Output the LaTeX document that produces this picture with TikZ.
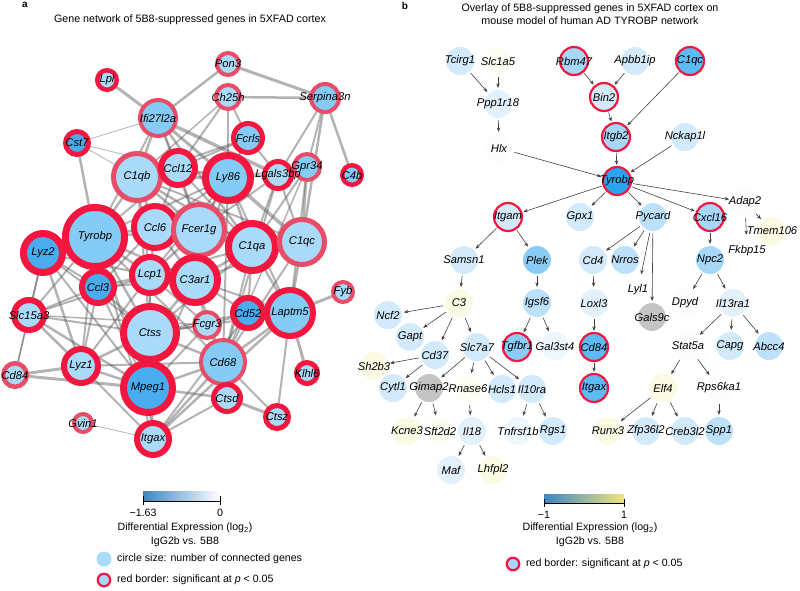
\documentclass[tikz,border=0pt]{standalone}
\usepackage{fontspec}
\setmainfont{Liberation Sans}
\usetikzlibrary{arrows.meta,backgrounds}

\definecolor{bL}{HTML}{AADAFA}
\definecolor{bM}{HTML}{84CBF6}
\definecolor{bD}{HTML}{48ACEF}
\definecolor{rR}{HTML}{F5163F}
\definecolor{rS}{HTML}{E84C66}
\definecolor{w0}{HTML}{FAFCFE}
\definecolor{w1}{HTML}{EFF7FE}
\definecolor{y0}{HTML}{FDFDF3}
\definecolor{y1}{HTML}{FBFBE4}
\definecolor{p1}{HTML}{E3F1FD}
\definecolor{p2}{HTML}{D2EAFB}
\definecolor{p3}{HTML}{BDE1FA}
\definecolor{p4}{HTML}{A6D7F8}
\definecolor{p5}{HTML}{8ACCF5}
\definecolor{p6}{HTML}{5CBAF4}
\definecolor{p7}{HTML}{2AA4EF}
\definecolor{gy}{HTML}{C4C4C4}
\definecolor{legA}{HTML}{3B85C6}
\definecolor{legY}{HTML}{F3E57A}

\def\genesA{Pon3/228/64/13/bL/rS/4, Lpl/107/80/12/bL/rR/4.5, Ch25h/228/97/14/bL/rS/4,
  Serpina3n/325/98/16/bM/rS/4, Ifi27l2a/158/118/20/bM/rS/4, Cst7/77/143/14/bD/rR/5,
  Fcrls/248/138/17/bM/rR/5, C1qb/137/177/26/bL/rS/5, Ccl12/178/168/20/bL/rR/6,
  Ly86/228/178/26/bM/rR/7, Lgals3bp/278/175/16/bL/rR/5, Gpr34/307/167/15/bM/rS/4,
  C4b/352/175/12/bM/rR/4.5, Tyrobp/95/237/33/bM/rR/7, Ccl6/155/227/24/bL/rR/6,
  Fcer1g/199/230/28/bL/rS/5, C1qa/252/247/27/bL/rR/7, C1qc/302/242/25/bL/rS/5,
  Lyz2/43/253/23/bD/rR/7, Lcp1/150/275/21/bL/rR/6, C3ar1/195/280/26/bL/rR/7,
  Ccl3/98/287/19/bD/rR/6, Fyb/343/292/12/bL/rS/4, Slc15a3/29/315/18/bL/rR/6,
  Ctss/150/333/30/bL/rR/7, Fcgr3/207/325/15/bL/rS/4, Cd52/248/313/18/bD/rR/6,
  Laptm5/290/313/26/bM/rR/6, Lyz1/81/366/20/bL/rR/6, Cd84/15/375/14/bL/rS/4.5,
  Cd68/223/362/24/bM/rS/4, Klhl6/307/373/13/bL/rR/5, Mpeg1/148/388/28/bD/rR/7,
  Ctsd/227/398/16/bL/rR/5, Ctsz/277/417/14/bL/rR/5, Gvin1/83/423/11/bL/rS/4,
  Itgax/153/439/19/bL/rR/6}

\def\edgesA{Lpl/Ifi27l2a/3, Pon3/Ifi27l2a/2.5, Pon3/Serpina3n/3, Ch25h/Serpina3n/2.5,
  Ch25h/Ly86/2, Ch25h/Fcrls/2, Ch25h/Ccl12/2, Ch25h/C1qb/1.5, Serpina3n/Lgals3bp/2,
  Serpina3n/C4b/2.5, Serpina3n/C1qc/2.5, Serpina3n/Gpr34/2, Ifi27l2a/C1qb/2.5,
  Ifi27l2a/Ccl12/2, Ifi27l2a/Lgals3bp/3.5, Ifi27l2a/Tyrobp/2, Ifi27l2a/Ly86/3,
  Ifi27l2a/Fcer1g/2, Ifi27l2a/C1qa/2.5, Cst7/Tyrobp/2.5, Cst7/C1qb/0.8, Cst7/Ccl12/0.8,
  Cst7/Ifi27l2a/0.8, Fcrls/Ccl12/2, Fcrls/C1qb/2, Fcrls/Lgals3bp/2, Fcrls/Ly86/2,
  Fcrls/Fcer1g/1.5, Gpr34/C1qc/2.5, Gpr34/C1qa/2, Gpr34/Laptm5/2, Gpr34/Ly86/2,
  Gpr34/Cd68/1.5, Lgals3bp/C1qa/2, Lgals3bp/C1qc/2, Lgals3bp/Ly86/2, Lgals3bp/Cd68/2,
  Lgals3bp/Fcer1g/2, Ly86/C1qa/2.5, Ly86/C1qc/3.5, Ly86/Fcer1g/2.5, Ly86/Ccl6/2,
  Ly86/Tyrobp/2, Ly86/C3ar1/2, Ly86/Lcp1/2, Ly86/Cd68/2, Ly86/Laptm5/2,
  C1qb/Tyrobp/2.5, C1qb/Ccl6/2.5, C1qb/Fcer1g/2.5, C1qb/C1qa/2.5, C1qb/C1qc/2,
  C1qb/Ccl12/2.5, C1qb/Ly86/3, C1qb/Lcp1/2, C1qb/Ctss/2, Ccl12/Ccl6/2, Ccl12/Fcer1g/2,
  Ccl12/C1qa/2, Ccl12/Ly86/3, Ccl12/Tyrobp/2, Tyrobp/Ccl6/2.5, Tyrobp/Lyz2/3,
  Tyrobp/Ccl3/2.5, Tyrobp/Lcp1/2.5, Tyrobp/Ctss/2.5, Tyrobp/Mpeg1/2.5,
  Tyrobp/Slc15a3/2, Tyrobp/Lyz1/2, Tyrobp/Fcer1g/2.5, Tyrobp/C3ar1/2.5, Tyrobp/Cd68/2,
  Tyrobp/Itgax/2, Lyz2/Slc15a3/2, Lyz2/Ccl3/2, Lyz2/Lyz1/2.5, Lyz2/Ctss/2,
  Lyz2/Mpeg1/2, Lyz2/Cd84/1.5, Lyz2/Lcp1/2, Slc15a3/Cd84/1.5, Slc15a3/Lyz1/2.5,
  Slc15a3/Ctss/2, Slc15a3/Mpeg1/2.5, Slc15a3/Ccl3/2, Slc15a3/Lcp1/2, Slc15a3/Fcgr3/1.5,
  Cd84/Lyz1/3, Cd84/Mpeg1/3, Lyz1/Mpeg1/2.5, Lyz1/Ctss/2.5, Lyz1/Ccl3/2, Lyz1/Lcp1/2,
  Lyz1/Itgax/2, Lyz1/Cd68/2, Gvin1/Itgax/0.8, Itgax/Mpeg1/3, Itgax/Cd68/2.5,
  Itgax/Ctss/2, Itgax/Laptm5/2.5, Itgax/Cd52/2, Itgax/Ctsd/2, Mpeg1/Ctss/3,
  Mpeg1/Cd68/2.5, Mpeg1/Ctsd/2.5, Mpeg1/Lcp1/2, Mpeg1/Ccl3/2, Mpeg1/Fcgr3/2,
  Mpeg1/C3ar1/2, Ctss/Ccl3/2.5, Ctss/Lcp1/2.5, Ctss/C3ar1/2.5, Ctss/Fcgr3/2,
  Ctss/Cd68/2.5, Ctss/Cd52/2, Ctss/Laptm5/2, Ctss/C1qa/2, Cd68/Ctsd/2.5, Cd68/Ctsz/2,
  Cd68/Laptm5/2.5, Cd68/Cd52/2, Cd68/Fcgr3/2, Cd68/C3ar1/2, Cd68/C1qa/2, Cd68/C1qc/2,
  Ctsd/Ctsz/3, Ctsz/Laptm5/2, Laptm5/Fyb/3, Laptm5/Klhl6/3, Laptm5/Cd52/2.5,
  Laptm5/C1qc/2.5, Laptm5/C1qa/2.5, Laptm5/C3ar1/2, Cd52/C3ar1/2, Cd52/C1qa/2,
  Cd52/Fcgr3/2, Fcgr3/C3ar1/2, Fcgr3/Lcp1/2, C3ar1/Lcp1/2.5, C3ar1/Fcer1g/2.5,
  C3ar1/C1qa/2.5, C3ar1/C1qc/2, C3ar1/Ccl6/2.5, C3ar1/Ccl3/2, Lcp1/Ccl6/2.5,
  Lcp1/Fcer1g/2.5, Lcp1/Ccl3/2.5, Lcp1/C1qa/2, Ccl6/Fcer1g/2.5, Ccl6/Ccl3/2,
  Ccl6/C1qa/2, Fcer1g/C1qa/2.5, Fcer1g/C1qc/2.5, C1qa/C1qc/2.5}

\def\genesB{Tcirg1/460/61/p2/none, Slc1a5/498/61/y0/none, Rbm47/574/61/p4/rR,
  Apbb1ip/635/61/p2/none, C1qc/690/61/p6/rR, Ppp1r18/498/104/p1/none,
  Bin2/604/97/p2/rR, Itgb2/616/137/p4/rR, Nckap1l/685/137/p2/none, Hlx/499/148/w0/none,
  Tyrobp/617/181/p7/rR, Adap2/745/202/w0/none, Tmem106/772/231/y1/none,
  Fkbp15/747/251/white/none, Itgam/508/217/p2/rR, Gpx1/580/217/p2/none,
  Pycard/653/217/p3/none, Cxcl16/710/217/p4/rR, Samsn1/464/260/p2/none,
  Plek/537/260/p5/none, Cd4/593/260/p2/none, Nrros/625/260/p3/none,
  Npc2/710/260/p4/none, Lyl1/638/290/white/none, C3/459/303/y1/none,
  Igsf6/537/303/p3/none, Loxl3/594/303/p1/none, Gals9c/652/317/gy/none,
  Dpyd/685/303/w0/none, Il13ra1/733/303/p1/none, Ncf2/388/315/p2/none,
  Gapt/410/337/p2/none, Cd37/435/355/p2/none, Slc7a7/477/347/p2/none,
  Tgfbr1/517/347/p5/rR, Gal3st4/555/346/w1/none, Cd84/594/347/p6/rR,
  Stat5a/688/346/w0/none, Capg/730/346/p2/none, Abcc4/769/346/p3/none,
  Sh2b3/374/366/y1/none, Cytl1/393/388/p2/none, Gimap2/429/388/gy/none,
  Rnase6/468/389/y0/none, Hcls1/502/389/p2/none, Il10ra/532/389/p2/none,
  Itgax/594/388/p6/rR, Elf4/663/388/y1/none, Rps6ka1/719/388/w0/none,
  Kcne3/407/431/y1/none, Sft2d2/440/431/y0/none, Il18/472/431/p1/none,
  Tnfrsf1b/518/431/w1/none, Rgs1/553/431/p2/none, Runx3/608/431/y1/none,
  Zfp36l2/646/431/p2/none, Creb3l2/685/431/p2/none, Spp1/719/431/p3/none,
  Maf/451/470/p1/none, Lhfpl2/493/470/y1/none}

\def\arrowsB{Tcirg1/Ppp1r18, Slc1a5/Ppp1r18, Ppp1r18/Hlx, Hlx/Tyrobp, Rbm47/Bin2,
  Apbb1ip/Bin2, Bin2/Itgb2, C1qc/Itgb2, Itgb2/Tyrobp, Nckap1l/Tyrobp, Tyrobp/Itgam,
  Tyrobp/Gpx1, Tyrobp/Pycard, Tyrobp/Cxcl16, Tyrobp/Adap2, Adap2/Tmem106,
  Adap2/Fkbp15, Itgam/Samsn1, Itgam/Plek, Pycard/Cd4, Pycard/Nrros, Pycard/Lyl1,
  Pycard/Gals9c, Cxcl16/Npc2, Npc2/Dpyd, Npc2/Il13ra1, Samsn1/C3, Plek/Igsf6,
  Cd4/Loxl3, Loxl3/Cd84, Cd84/Itgax, C3/Ncf2, C3/Gapt, C3/Cd37, C3/Slc7a7,
  Igsf6/Tgfbr1, Igsf6/Gal3st4, Il13ra1/Stat5a, Il13ra1/Capg, Il13ra1/Abcc4,
  Cd37/Sh2b3, Cd37/Cytl1, Slc7a7/Gimap2, Slc7a7/Rnase6, Slc7a7/Hcls1, Slc7a7/Il10ra,
  Stat5a/Elf4, Stat5a/Rps6ka1, Gimap2/Kcne3, Gimap2/Sft2d2, Rnase6/Il18,
  Il10ra/Tnfrsf1b, Il10ra/Rgs1, Elf4/Runx3, Elf4/Zfp36l2, Elf4/Creb3l2,
  Rps6ka1/Spp1, Il18/Maf, Il18/Lhfpl2}

\begin{document}
\begin{tikzpicture}[x=1pt,y=-1pt,
    anode/.style={circle,inner sep=0pt},
    glabel/.style={font=\fontsize{11.2}{13}\selectfont\itshape,inner sep=0pt},
    aedge/.style={draw=black!62,opacity=0.48,line cap=round},
    bnode/.style={circle,inner sep=0pt,minimum size=28pt,line width=2.2pt},
    barrow/.style={draw=black!75,line width=0.6pt,-{Stealth[length=4.5pt,width=3.5pt]},
      shorten >=1pt,shorten <=1pt},
    ttl/.style={font=\fontsize{10.7}{13.5}\selectfont,align=center,inner sep=0pt},
    legtxt/.style={font=\fontsize{10.6}{12}\selectfont,inner sep=0pt}]
\useasboundingbox (0,0) rectangle (800,590);

\node[font=\bfseries\fontsize{10}{12}\selectfont] (labA) at (25,5) {a};
\node[font=\bfseries\fontsize{10}{12}\selectfont] (labB) at (405,6) {b};
\node[ttl] (titleA) at (190,20) {Gene network of 5B8-suppressed genes in 5XFAD cortex};
\node[ttl] (titleB) at (590,14) {Overlay of 5B8-suppressed genes in 5XFAD cortex on\\
  mouse model of human AD TYROBP network};

% panel a
\foreach \n/\x/\y/\r/\f/\c/\w in \genesA {
  \pgfmathsetmacro\d{2*\r-\w}
  \node[anode,minimum size=\d pt,fill=\f,draw=\c,line width=\w pt] (a\n) at (\x,\y) {};
}
\begin{scope}[on background layer]
\foreach \u/\v/\w in \edgesA
  \draw[aedge,line width=\w pt] (a\u) -- (a\v);
\end{scope}
\foreach \n/\x/\y/\r/\f/\c/\w in \genesA
  \node[glabel] (a\n-t) at (a\n) {\n};

% panel b
\foreach \n/\x/\y/\f/\c in \genesB
  \node[bnode,fill=\f,draw=\c] (b\n) at (\x,\y) {};
\foreach \n/\x/\y/\f/\c in \genesB
  \node[glabel] (b\n-t) at (b\n) {\n};
\foreach \u/\v in \arrowsB
  \draw[barrow] (b\u) -- (b\v);

% legend a
\shade[left color=legA,right color=white] (143,491) rectangle (220,501);
\draw[line width=0.6pt] (143,496) -- (143,505) (143,501) -- (220,501) (220,496) -- (220,505);
\node[legtxt] (tickA1) at (143,513) {−1.63};
\node[legtxt] (tickA2) at (220,513) {0};
\node[legtxt] (deA) at (185,528) {Differential Expression (log\textsubscript{2})};
\node[legtxt] (vsA) at (185,542) {IgG2b vs. 5B8};
\node[anode,minimum size=15pt,fill=bL] (legSize) at (104,559) {};
\node[legtxt,anchor=west] (legSizeT) at (117,559) {circle size: number of connected genes};
\node[anode,minimum size=12.5pt,fill=p4,draw=rR,line width=2.2pt] (legSigA) at (104,580) {};
\node[legtxt,anchor=west] (legSigAT) at (117,580) {red border: significant at \textit{p} < 0.05};

% legend b
\shade[left color=legA,middle color=white,right color=legY] (544,494) rectangle (624,503);
\draw[line width=0.6pt] (544,499) -- (544,507) (544,503) -- (624,503) (624,499) -- (624,507);
\node[legtxt] (tickB1) at (544,515) {−1};
\node[legtxt] (tickB2) at (624,515) {1};
\node[legtxt] (deB) at (590,528) {Differential Expression (log\textsubscript{2})};
\node[legtxt] (vsB) at (590,542) {IgG2b vs. 5B8};
\node[anode,minimum size=12.5pt,fill=p4,draw=rR,line width=2.2pt] (legSigB) at (513,564) {};
\node[legtxt,anchor=west] (legSigBT) at (526,564) {red border: significant at \textit{p} < 0.05};
\end{tikzpicture}
\end{document}
